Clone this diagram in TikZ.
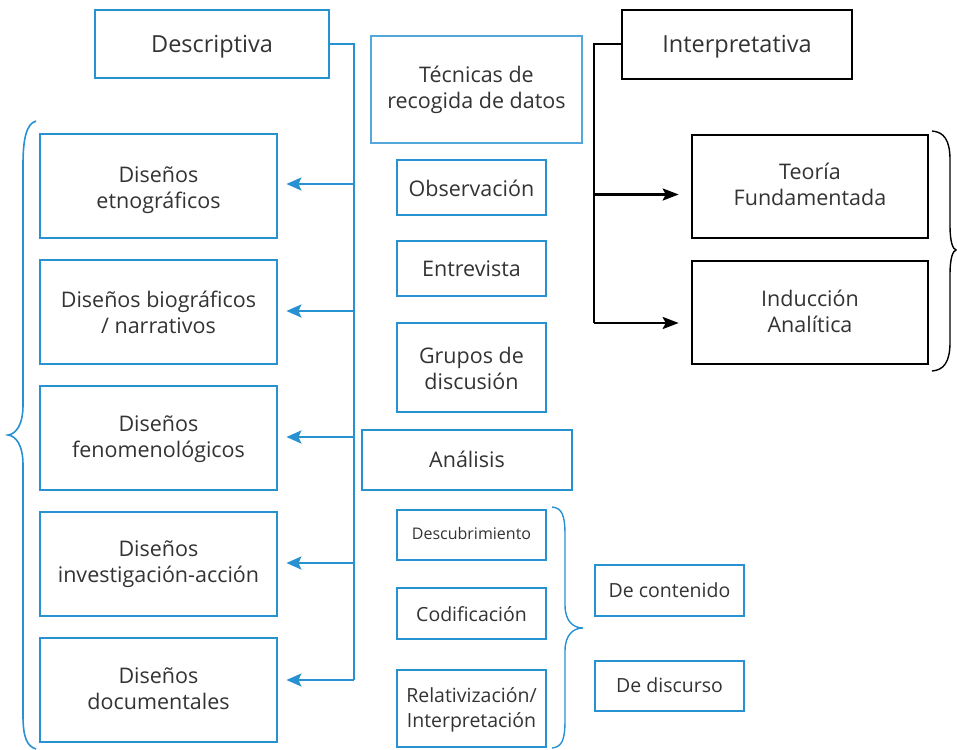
\documentclass[tikz,border=0pt]{standalone}
\usepackage{fontspec}
\setmainfont{Open Sans}
\usetikzlibrary{arrows.meta}
\definecolor{bl}{RGB}{40,145,210}
\definecolor{tx}{RGB}{51,51,51}
\tikzset{
  bbox/.style={draw=bl, line width=2.8pt, inner sep=0pt},
  kbox/.style={draw=black, line width=2.6pt, inner sep=0pt},
  bline/.style={draw=bl, line width=2.6pt},
  kline/.style={draw=black, line width=2.4pt},
  barrow/.style={bline, -{Stealth[length=15pt,width=13pt,inset=3pt]}},
  karrow/.style={kline, -{Stealth[length=16pt,width=12pt,inset=3pt]}},
  lab/.style={text=tx, align=center, inner sep=0pt},
  bigf/.style={lab, font=\fontsize{23.5}{27}\selectfont},
  midf/.style={lab, font=\fontsize{21.5}{26}\selectfont},
  smf/.style={lab, font=\fontsize{19.5}{25}\selectfont},
  tinyf/.style={lab, font=\fontsize{16}{20}\selectfont},
}
% name, x1, y1, x2, y2, box style, font style, text, downward text shift
\newcommand{\bx}[9]{\node[#6, minimum width={(#4-#2)*1pt}, minimum height={(#5-#3)*1pt},
  label={[#7, yshift={-(#9)*1pt}]center:{#8}}] (#1) at ({(#2+#4)/2},{(#3+#5)/2}) {};}
\begin{document}
\begin{tikzpicture}[x=1pt,y=-1pt]
\useasboundingbox (0,0) rectangle (957,749);
% top row
\bx{desc}{95}{10}{329}{78}{bbox}{bigf}{Descriptiva}{3}
\bx{tec}{371}{36}{582}{143}{bbox,draw=bl!80}{midf}{Técnicas de\\recogida de datos}{0.5}
\bx{interp}{622}{10}{852}{79}{kbox}{bigf}{Interpretativa}{2}
% right
\bx{teo}{692}{135}{928}{238}{kbox}{midf}{Teoría\\Fundamentada}{-2.5}
\bx{ind}{692}{261}{928}{364}{kbox}{midf}{Inducción\\Analítica}{-1.5}
% left column
\bx{etno}{40}{134}{277}{238}{bbox}{midf}{Diseños\\etnográficos}{4}
\bx{bio}{40}{260}{277}{364}{bbox}{midf}{Diseños biográficos\\/ narrativos}{0}
\bx{feno}{40}{386}{277}{490}{bbox}{midf}{Diseños\\fenomenológicos}{1}
\bx{inv}{40}{512}{277}{616}{bbox}{midf}{Diseños\\investigación-acción}{0}
\bx{doc}{40}{638}{277}{742}{bbox}{midf}{Diseños\\documentales}{-1}
% middle column
\bx{obs}{397}{160}{546}{215}{bbox}{midf}{Observación}{0.5}
\bx{ent}{397}{241}{546}{296}{bbox}{midf}{Entrevista}{0}
\bx{gru}{397}{323}{546}{412}{bbox}{midf}{Grupos de\\discusión}{1}
\bx{ana}{362}{430}{572}{490}{bbox}{midf}{Análisis}{-1}
\bx{desb}{397}{510}{546}{560}{bbox}{tinyf}{Descubrimiento}{-2}
\bx{cod}{397}{588}{546}{639}{bbox}{smf}{Codificación}{0.5}
\bx{rel}{397}{670}{546}{747}{bbox}{smf}{Relativización/\\Interpretación}{1}
\bx{cont}{595}{565}{744}{616}{bbox}{smf}{De contenido}{0}
\bx{disc}{595}{661}{744}{711}{bbox}{smf}{De discurso}{-1}
% blue connectors
\coordinate (bt) at (354,44);
\coordinate (bb) at (354,680);
\draw[bline] (desc.east) -- (bt) -- (bb);
\draw[barrow] ([yshift=2]bt |- etno.east) -- ([xshift=8,yshift=2]etno.east);
\draw[barrow] ([yshift=1]bt |- bio.east) -- ([xshift=8,yshift=1]bio.east);
\draw[barrow] ([yshift=1]bt |- feno.east) -- ([xshift=8,yshift=1]feno.east);
\draw[barrow] ([yshift=1]bt |- inv.east) -- ([xshift=8,yshift=1]inv.east);
\draw[barrow] (bb) -- ([xshift=8]bb -| doc.east);
% black connectors
\coordinate (kt) at (594,44);
\coordinate (kb) at (594,323);
\draw[kline] (interp.west |- kt) -- (kt) -- (kb);
\draw[karrow] ([yshift=-8]kt |- teo.west) -- ([xshift=-12,yshift=-8]teo.west);
\draw[karrow] (kb) -- ([xshift=-12]kb -| ind.west);
% braces
\draw[bl, line width=1.6pt] (36,121) .. controls (26,124) and (23,140) .. (23,165) -- (23,405)
  .. controls (23,425) and (16,434) .. (8,435) .. controls (16,436) and (23,445) .. (23,465)
  -- (23,715) .. controls (23,738) and (27,746) .. (36,749);
\draw[black, line width=1.4pt] (932,131) .. controls (944,132) and (950,140) .. (950,160) -- (950,225)
  .. controls (950,243) and (953,249) .. (956,250) .. controls (953,251) and (950,257) .. (950,275)
  -- (950,342) .. controls (950,362) and (944,370) .. (932,371);
\draw[bl, line width=1.4pt] (552,507) .. controls (562,508) and (565,515) .. (565,535) -- (565,605)
  .. controls (565,622) and (574,628) .. (583,628) .. controls (574,628) and (565,634) .. (565,651)
  -- (565,720) .. controls (565,740) and (562,747) .. (552,748);
\end{tikzpicture}
\end{document}
